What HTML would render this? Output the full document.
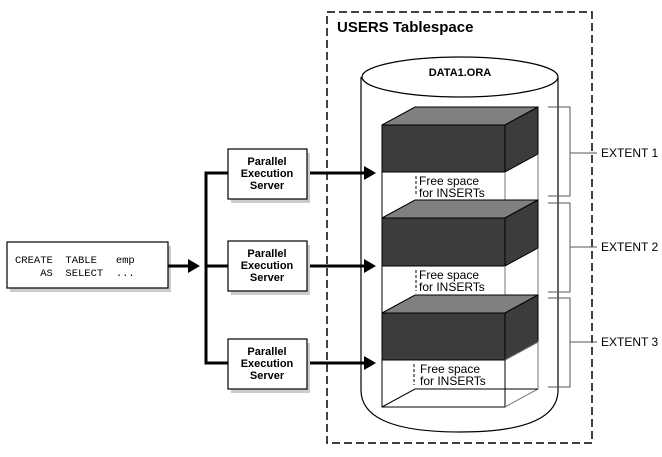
<!DOCTYPE html>
<html><head><style>body{margin:0;background:#fff}</style></head><body>
<svg width="662" height="452" viewBox="0 0 662 452" xmlns="http://www.w3.org/2000/svg" font-family="Liberation Sans, sans-serif">
<rect x="327" y="12" width="265" height="431" fill="none" stroke="#000" stroke-width="1.5" stroke-dasharray="8,4"/>
<text x="337" y="32" font-size="15" font-weight="bold">USERS Tablespace</text>
<!-- cylinder -->
<path d="M361,77 L361,390 Q361,432 460,432 Q558,432 558,390 L558,77" fill="#fff" stroke="#000" stroke-width="1.2"/>
<ellipse cx="460" cy="77" rx="98" ry="20" fill="#fff" stroke="#000" stroke-width="1.2"/>
<text x="460" y="76" font-size="11" font-weight="bold" text-anchor="middle">DATA1.ORA</text>
<!-- blocks -->
<g stroke="#000" stroke-width="1">
<!-- extent 1 -->
<polygon points="382,125 415,107 538,107 505,125" fill="#808080"/>
<rect x="382" y="125" width="123" height="47" fill="#3c3c3c"/>
<polygon points="505,125 538,107 538,154 505,172" fill="#3c3c3c"/>
<rect x="382" y="172" width="123" height="46" fill="#fff"/>
<line x1="538" y1="154" x2="538" y2="200" stroke="#777"/>
<line x1="505" y1="172" x2="505" y2="218" stroke="#777"/>
<!-- extent 2 -->
<polygon points="382,218 415,200 538,200 505,218" fill="#808080"/>
<rect x="382" y="218" width="123" height="48" fill="#3c3c3c"/>
<polygon points="505,218 538,200 538,248 505,266" fill="#3c3c3c"/>
<rect x="382" y="266" width="123" height="47" fill="#fff"/>
<line x1="538" y1="248" x2="538" y2="295" stroke="#777"/>
<line x1="505" y1="266" x2="505" y2="313" stroke="#777"/>
<!-- extent 3 -->
<polygon points="382,313 415,295 538,295 505,313" fill="#808080"/>
<rect x="382" y="313" width="123" height="47" fill="#3c3c3c"/>
<polygon points="505,313 538,295 538,342 505,360" fill="#3c3c3c"/>
<rect x="382" y="360" width="123" height="47" fill="#fff"/>
<polyline points="505,360 538,342 538,389 505,407" fill="none" stroke="#777"/>
<polyline points="382,407 415,389 538,389" fill="none" stroke="#000"/>
</g>
<g stroke="#000" stroke-dasharray="3,2"><line x1="416" y1="176" x2="416" y2="196"/><line x1="416" y1="270" x2="416" y2="291"/><line x1="414" y1="364" x2="414" y2="385"/></g>
<g font-size="12">
<text x="419" y="185">Free space</text><text x="419" y="197">for INSERTs</text>
<text x="419" y="279">Free space</text><text x="419" y="291">for INSERTs</text>
<text x="420" y="373">Free space</text><text x="420" y="385">for INSERTs</text>
</g>
<!-- brackets -->
<g stroke="#555" fill="none" stroke-width="1">
<polyline points="548,107 570,107 570,196 548,196"/><line x1="570" y1="153" x2="597" y2="153"/>
<polyline points="548,203 570,203 570,292 548,292"/><line x1="570" y1="247" x2="597" y2="247"/>
<polyline points="548,298 570,298 570,387 548,387"/><line x1="570" y1="342" x2="597" y2="342"/>
</g>
<g font-size="12"><text x="601" y="157">EXTENT 1</text><text x="601" y="251">EXTENT 2</text><text x="601" y="346">EXTENT 3</text></g>
<!-- left -->
<rect x="10" y="246" width="161" height="46" fill="#ccc"/>
<rect x="7" y="242" width="161" height="46" fill="#fff" stroke="#000" stroke-width="1.2"/>
<text x="15" y="263" font-family="Liberation Mono, monospace" font-size="10.5" xml:space="preserve">CREATE  TABLE   emp</text>
<text x="15" y="276" font-family="Liberation Mono, monospace" font-size="10.5" xml:space="preserve">    AS  SELECT  ...</text>
<g stroke="#000" stroke-width="3" fill="none">
<line x1="168" y1="266" x2="190" y2="266"/>
<polyline points="228,173 206,173 206,363 228,363"/>
<line x1="206" y1="266" x2="228" y2="266"/>
<line x1="307" y1="173" x2="366" y2="173"/><line x1="307" y1="266" x2="366" y2="266"/><line x1="307" y1="363" x2="366" y2="363"/>
</g>
<g fill="#000"><polygon points="188,259 200,266 188,273"/><polygon points="364,166 376,173 364,180"/><polygon points="364,259 376,266 364,273"/><polygon points="364,356 376,363 364,370"/></g>
<g>
<rect x="231" y="153" width="79" height="50" fill="#ccc"/><rect x="228" y="149" width="79" height="50" fill="#fff" stroke="#000" stroke-width="1.2"/>
<rect x="231" y="245" width="79" height="50" fill="#ccc"/><rect x="228" y="241" width="79" height="50" fill="#fff" stroke="#000" stroke-width="1.2"/>
<rect x="231" y="343" width="79" height="50" fill="#ccc"/><rect x="228" y="339" width="79" height="50" fill="#fff" stroke="#000" stroke-width="1.2"/>
</g>
<g font-size="11" font-weight="bold" text-anchor="middle">
<text x="267" y="165">Parallel</text><text x="267" y="177">Execution</text><text x="267" y="189">Server</text>
<text x="267" y="257">Parallel</text><text x="267" y="269">Execution</text><text x="267" y="281">Server</text>
<text x="267" y="355">Parallel</text><text x="267" y="367">Execution</text><text x="267" y="379">Server</text>
</g>
</svg>
</body></html>
